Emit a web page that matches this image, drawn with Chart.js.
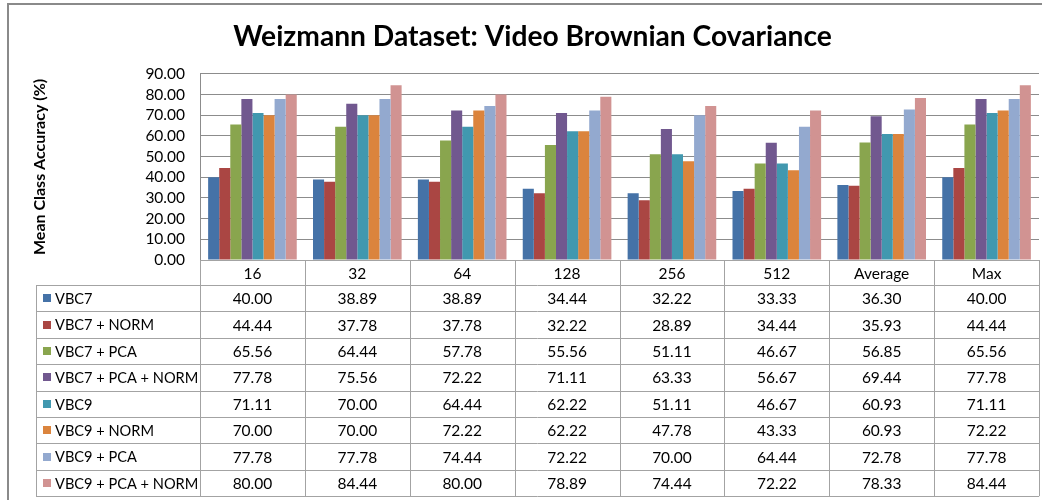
<!DOCTYPE html>
<html>
<head>
<meta charset="utf-8">
<script src="https://cdn.jsdelivr.net/npm/chart.js@4.4.0/dist/chart.umd.min.js"></script>
<style>
  html, body { margin: 0; padding: 0; background: #fff; }
  canvas { display: block; }
</style>
</head>
<body>
<canvas id="chart" width="1042" height="500"></canvas>
<script>
// Categorías (eje X) y series
const categorias = ["16", "32", "64", "128", "256", "512", "Average", "Max"];

const vbc7            = [40.00, 38.89, 38.89, 34.44, 32.22, 33.33, 36.30, 40.00];
const vbc7Norm        = [44.44, 37.78, 37.78, 32.22, 28.89, 34.44, 35.93, 44.44];
const vbc7Pca         = [65.56, 64.44, 57.78, 55.56, 51.11, 46.67, 56.85, 65.56];
const vbc7PcaNorm     = [77.78, 75.56, 72.22, 71.11, 63.33, 56.67, 69.44, 77.78];
const vbc9            = [71.11, 70.00, 64.44, 62.22, 51.11, 46.67, 60.93, 71.11];
const vbc9Norm        = [70.00, 70.00, 72.22, 62.22, 47.78, 43.33, 60.93, 72.22];
const vbc9Pca         = [77.78, 77.78, 74.44, 72.22, 70.00, 64.44, 72.78, 77.78];
const vbc9PcaNorm     = [80.00, 84.44, 80.00, 78.89, 74.44, 72.22, 78.33, 84.44];

const nombresSeries = [
  "VBC7", "VBC7 + NORM", "VBC7 + PCA", "VBC7 + PCA + NORM",
  "VBC9", "VBC9 + NORM", "VBC9 + PCA", "VBC9 + PCA + NORM"
];
const valoresSeries = [vbc7, vbc7Norm, vbc7Pca, vbc7PcaNorm, vbc9, vbc9Norm, vbc9Pca, vbc9PcaNorm];
const colores = ["#4572a7", "#aa4643", "#89a54e", "#71588f", "#4198af", "#db843d", "#93a9cf", "#d19392"];

// Ticks del eje Y
const ticksY = [0, 10, 20, 30, 40, 50, 60, 70, 80, 90];

const FUENTE = "Lato, 'Liberation Sans', sans-serif";
const ALTO_CABECERA = 25;
const ALTO_FILA = 26.4;
const X_LEYENDA = 36;

// ============================
// Borde exterior del gráfico
// ============================
const bordeGrafico = {
  id: "bordeGrafico",
  beforeDraw(chart) {
    const ctx = chart.ctx;
    ctx.save();
    ctx.fillStyle = "#fff";
    ctx.fillRect(0, 0, chart.width, chart.height);
    ctx.strokeStyle = "#8a8a8a";
    ctx.lineWidth = 2;
    ctx.strokeRect(8, 4, chart.width + 20, chart.height + 20);
    ctx.restore();
  }
};

// ============================
// Tabla de datos bajo el eje X
// ============================
const tablaDatos = {
  id: "tablaDatos",
  afterDraw(chart) {
    const ctx = chart.ctx;
    const area = chart.chartArea;
    const x = chart.scales.x;
    const anchoCol = area.width / categorias.length;
    const yCab = area.bottom;
    const yFilas = yCab + ALTO_CABECERA;
    const yFin = yFilas + ALTO_FILA * nombresSeries.length;

    ctx.save();
    ctx.strokeStyle = "#a3a3a3";
    ctx.lineWidth = 1;

    // líneas verticales de columnas
    for (let i = 0; i <= categorias.length; i++) {
      const px = Math.round(area.left + i * anchoCol) + 0.5;
      ctx.beginPath();
      ctx.moveTo(px, yCab);
      ctx.lineTo(px, yFin);
      ctx.stroke();
    }
    // columna de leyenda
    ctx.beginPath();
    ctx.moveTo(X_LEYENDA + 0.5, yFilas);
    ctx.lineTo(X_LEYENDA + 0.5, yFin);
    ctx.stroke();

    // líneas horizontales
    for (let r = 0; r <= nombresSeries.length; r++) {
      const py = Math.round(yFilas + r * ALTO_FILA) + 0.5;
      ctx.beginPath();
      ctx.moveTo(X_LEYENDA, py);
      ctx.lineTo(area.right, py);
      ctx.stroke();
    }

    ctx.fillStyle = "#000";
    ctx.textAlign = "center";
    ctx.textBaseline = "middle";

    // cabecera con las categorías
    ctx.font = "15.5px " + FUENTE;
    categorias.forEach((c, i) => {
      ctx.fillText(c, x.getPixelForValue(i), yCab + ALTO_CABECERA / 2 + 1);
    });

    // filas: leyenda + valores
    nombresSeries.forEach((nombre, r) => {
      const yc = yFilas + r * ALTO_FILA + ALTO_FILA / 2 + 1;
      ctx.fillStyle = colores[r];
      ctx.fillRect(X_LEYENDA + 7, Math.round(yc - 5), 8, 8);
      ctx.fillStyle = "#000";
      ctx.textAlign = "left";
      ctx.font = "14.6px " + FUENTE;
      ctx.fillText(nombre, X_LEYENDA + 19, yc);
      ctx.textAlign = "center";
      ctx.font = "15.5px " + FUENTE;
      valoresSeries[r].forEach((v, i) => {
        ctx.fillText(v.toFixed(2), x.getPixelForValue(i), yc);
      });
    });
    ctx.restore();
  }
};

new Chart(document.getElementById("chart"), {
  type: "bar",
  data: {
    labels: categorias,
    datasets: nombresSeries.map((nombre, i) => ({
      label: nombre,
      data: valoresSeries[i],
      backgroundColor: colores[i],
      borderWidth: 0,
      categoryPercentage: 0.845,
      barPercentage: 1
    }))
  },
  options: {
    responsive: false,
    animation: false,
    layout: { padding: { left: 26, right: 3, top: 0, bottom: 240 } },
    plugins: {
      legend: { display: false },
      tooltip: { enabled: false },
      title: {
        display: true,
        text: "Weizmann Dataset: Video Brownian Covariance",
        color: "#000",
        font: { family: FUENTE, size: 28.2, weight: "bold" },
        padding: { top: 20, bottom: 20 }
      }
    },
    scales: {
      x: {
        grid: { display: false, drawTicks: false },
        border: { display: true, color: "#a3a3a3" },
        ticks: { display: false },
        afterFit(scale) { scale.height = 0; }
      },
      y: {
        min: 0,
        max: 90,
        afterBuildTicks(scale) { scale.ticks = ticksY.map(v => ({ value: v })); },
        ticks: {
          autoSkip: false,
          callback: v => Number(v).toFixed(2),
          color: "#000",
          font: { family: FUENTE, size: 15.5 },
          padding: 15
        },
        grid: { color: "#8c8c8c", drawTicks: false },
        border: { color: "#8c8c8c" },
        title: {
          display: true,
          text: "Mean Class Accuracy (%)",
          color: "#000",
          font: { family: FUENTE, size: 16, weight: "bold" },
          padding: { top: 4, bottom: 0 }
        },
        afterFit(scale) { scale.width = 200 - 26; }
      }
    }
  },
  plugins: [bordeGrafico, tablaDatos]
});
</script>
</body>
</html>
